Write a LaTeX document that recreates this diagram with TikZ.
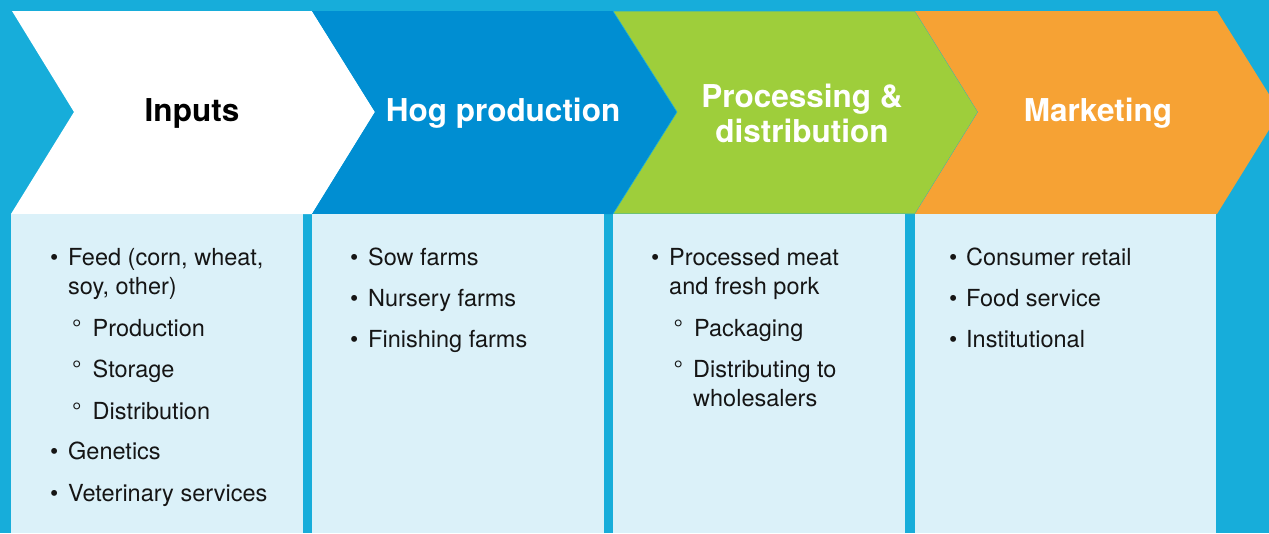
\documentclass[tikz,border=0pt]{standalone}
\usepackage{fontspec}
\setmainfont{TeX Gyre Heros}
\usetikzlibrary{positioning}
\definecolor{bgcyan}{HTML}{17ADDA}
\definecolor{hogblue}{HTML}{008ED2}
\definecolor{procgreen}{HTML}{9ECE3B}
\definecolor{markorange}{HTML}{F6A234}
\definecolor{boxfill}{HTML}{DBF1F9}
\definecolor{txtdark}{HTML}{151515}

\begin{document}
\begin{tikzpicture}[x=1pt,y=-1pt,
	head/.style={font=\bfseries\fontsize{31.5}{35.4}\selectfont, anchor=base, inner sep=0pt, text=white, align=center},
	item/.style={font=\fontsize{23.5}{29}\selectfont, anchor=base west, inner sep=0pt, text=txtdark, align=left},
	dot/.style={item}]
	\useasboundingbox (0,0) rectangle (1269,533);
	\clip (0,0) rectangle (1269,533);
	\fill[bgcyan] (0,0) rectangle (1269,533);
	% chevrons
	\fill[white] (12,11) -- (312,11) -- (375,112) -- (312,214) -- (11,214) -- (74,112) -- cycle;
	\fill[hogblue] (312,11) -- (613,11) -- (677,112) -- (613,214) -- (312,214) -- (375,112) -- cycle;
	\filldraw[procgreen, draw=bgcyan, line width=0.6pt] (613,11) -- (915,11) -- (978,112) -- (915,214) -- (613,214) -- (677,112) -- cycle;
	\fill[markorange] (915,11) -- (1217,11) -- (1280,112) -- (1217,214) -- (915,214) -- (978,112) -- cycle;
	% boxes
	\fill[boxfill] (11,214) rectangle (303,533);
	\fill[boxfill] (312,214) rectangle (604,533);
	\fill[boxfill] (613,214) rectangle (905,533);
	\fill[boxfill] (915,214) rectangle (1216,533);
	% headings (multi-line nodes sit on their last baseline)
	\node[head, text=black] (inputs) at (192,121.7) {Inputs};
	\node[head] (hog) at (503,121.7) {Hog production};
	\node[head] (proc) at (802,142.7) {Processing \&\\distribution};
	\node[head] (mark) at (1098,121.7) {Marketing};
	% inputs
	\node[dot] (in1b) at (50,265.7) {•};
	\node[item] (in1) at (68,294.5) {Feed (corn, wheat,\\soy, other)};
	\node[dot] (in2b) at (72,336) {°};
	\node[item] (in2) at (92.5,336) {Production};
	\node[dot] (in3b) at (72,377.5) {°};
	\node[item] (in3) at (92.5,377.5) {Storage};
	\node[dot] (in4b) at (72,419) {°};
	\node[item] (in4) at (92.5,419) {Distribution};
	\node[dot] (in5b) at (50,459.5) {•};
	\node[item] (in5) at (68,459.5) {Genetics};
	\node[dot] (in6b) at (50,501.5) {•};
	\node[item] (in6) at (68,501.5) {Veterinary services};
	% hog production
	\node[dot] (hog1b) at (350,265.7) {•};
	\node[item] (hog1) at (368,265.7) {Sow farms};
	\node[dot] (hog2b) at (350,306.7) {•};
	\node[item] (hog2) at (368,306.7) {Nursery farms};
	\node[dot] (hog3b) at (350,347.7) {•};
	\node[item] (hog3) at (368,347.7) {Finishing farms};
	% processing
	\node[dot] (proc1b) at (651,265.7) {•};
	\node[item] (proc1) at (669,294.7) {Processed meat\\and fresh pork};
	\node[dot] (proc2b) at (673.5,336) {°};
	\node[item] (proc2) at (694,336) {Packaging};
	\node[dot] (proc3b) at (673.5,377.5) {°};
	\node[item] (proc3) at (693,406.5) {Distributing to\\wholesalers};
	% marketing
	\node[dot] (mark1b) at (949,265.7) {•};
	\node[item] (mark1) at (966,265.7) {Consumer retail};
	\node[dot] (mark2b) at (949,306.7) {•};
	\node[item] (mark2) at (966,306.7) {Food service};
	\node[dot] (mark3b) at (949,347.7) {•};
	\node[item] (mark3) at (966,347.7) {Institutional};
\end{tikzpicture}
\end{document}
